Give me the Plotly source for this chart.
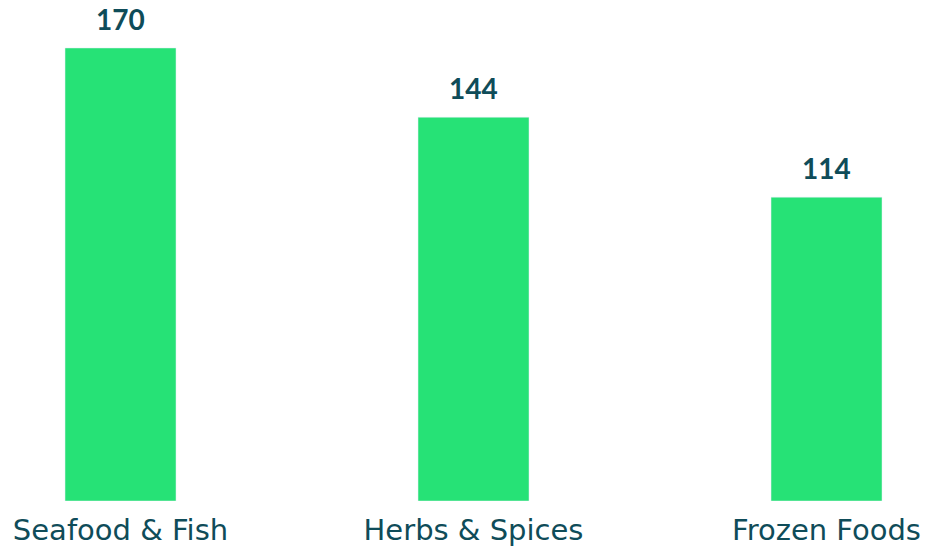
import plotly.graph_objects as go

categories = ["Seafood & Fish", "Herbs & Spices", "Frozen Foods"]
values = [170, 144, 114]

BAR = "#26E276"
TXT = "#0F4C59"

fig = go.Figure(go.Bar(
    x=categories, y=values, marker_color=BAR, width=0.3144,
    hoverinfo="skip",
))

for c, v in zip(categories, values):
    fig.add_annotation(x=c, y=v, text=str(v), showarrow=False, yanchor="bottom",
                       yshift=10, font=dict(family="Lato", size=28, color=TXT, weight="bold"))

fig.update_layout(
    width=928, height=548,
    margin=dict(l=0, r=0, t=0, b=47),
    paper_bgcolor="white", plot_bgcolor="white",
    showlegend=False,
    xaxis=dict(range=[-0.3414, 2.2875], showgrid=False, zeroline=False, showline=False,
               ticks="", tickfont=dict(family="DejaVu Sans", size=29, color=TXT), ticklabelstandoff=9),
    yaxis=dict(range=[0, 188], visible=False),
)
fig.write_html("out.html")
